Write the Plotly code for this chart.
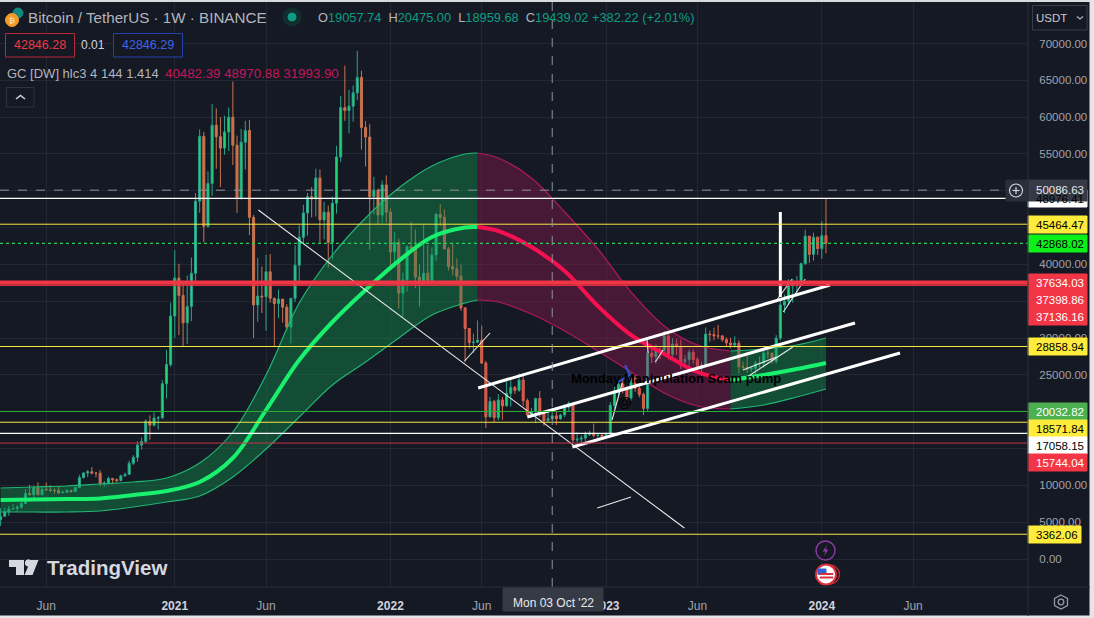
import pandas as pd
import plotly.graph_objects as go

# weekly candles
start_date = "2020-03-16"
first_open = 5360
closes = [5816, 6410, 6780, 6860, 7040, 7540, 8900, 8720, 9670, 8720, 9450, 9380, 9330, 9300, 9000, 9050, 9300, 9160, 9700, 11050,
          11680, 11850, 11650, 11650, 10250, 10320, 10940, 10770, 10670, 11290, 11500, 13000, 13800, 15480, 15960, 18700, 18170, 19150, 19170, 23800,
          26400, 33000, 38150, 35800, 32080, 34300, 38800, 48600, 57400, 45200, 51000, 58900, 57350, 55800, 58000, 60000, 56200, 49000, 56600, 58200,
          46400, 34500, 35700, 35600, 39000, 35400, 34700, 35300, 34200, 31500, 35400, 39900, 43700, 47000, 49200, 48900, 51750, 46050, 47100, 43000,
          48300, 54600, 61300, 60900, 61500, 63300, 65400, 58600, 57300, 49200, 50100, 46700, 50800, 47100, 41700, 43000, 36100, 37900, 42400, 42200,
          38300, 37700, 38800, 37800, 41300, 46800, 46400, 42100, 39700, 39400, 38400, 34100, 31300, 29400, 29450, 29700, 26600, 19300, 21400, 19200,
          21600, 20800, 22500, 23300, 22900, 24300, 21500, 19550, 20000, 21800, 20100, 18800, 19057.74, 19439.02, 19070, 19570, 20600, 21150, 16150, 16280,
          16420, 16880, 17100, 16780, 16830, 16550, 16940, 20870, 22700, 23750, 23300, 21850, 24600, 23170, 22350, 20450, 27970, 27470, 28450, 28320,
          30300, 27800, 29200, 28850, 26770, 27100, 28070, 27100, 25840, 26340, 30540, 30470, 30300, 30300, 29790, 29340, 29050, 29300, 26100, 26000,
          25800, 25900, 26600, 26570, 27970, 27900, 26850, 29990, 34500, 35000, 37060, 37350, 37450, 40100, 43850, 41370, 43700, 42150, 43900, 42868.02]
highs = [6900, 6980, 7200, 7460, 7300, 7780, 9460, 10070, 9950, 10400, 9750, 10380, 10000, 9590, 9780, 9300, 9470, 9400, 9810, 11420,
         11780, 12090, 12480, 11800, 12060, 10580, 11180, 10990, 10950, 11450, 11730, 13350, 14100, 16000, 16500, 18970, 19500, 19900, 19420, 24300,
         28400, 34800, 41950, 40100, 37800, 38500, 40950, 49700, 58350, 58000, 52640, 61800, 61180, 60000, 60200, 61300, 64850, 57500, 58400, 59500,
         59600, 46700, 40900, 39700, 41300, 41400, 35500, 36600, 35100, 34600, 35400, 42600, 45300, 48100, 49700, 50500, 53000, 52900, 48500, 48000,
         49200, 56100, 62900, 67000, 63700, 64300, 69000, 66300, 59500, 59100, 51900, 50300, 51400, 52100, 47600, 44400, 43500, 38900, 42600, 45800,
         44750, 40000, 45400, 42600, 42300, 47000, 48200, 47500, 42400, 42900, 40800, 40000, 34200, 31000, 30600, 32400, 31700, 26900, 22000, 21600,
         22400, 22000, 24250, 24700, 23500, 25200, 25200, 21800, 20500, 21900, 22800, 19700, 20300, 20475, 19950, 19700, 21000, 21400, 21100, 17200,
         16800, 17300, 17400, 18400, 17000, 16950, 17150, 21300, 23370, 23950, 24250, 23450, 25250, 25000, 23900, 22600, 28400, 28900, 29150, 28900,
         31000, 30500, 30000, 29900, 29800, 27700, 28450, 28450, 27400, 26800, 31430, 31000, 31400, 31800, 30400, 30100, 30050, 30250, 29700, 26800,
         28100, 26100, 26900, 27500, 28600, 28600, 28100, 30400, 35300, 35900, 38000, 37980, 38400, 40250, 44700, 43400, 44300, 43800, 45900, 49000]
lows = [4500, 5700, 5860, 6730, 6460, 6810, 7530, 8650, 8200, 8700, 8640, 9260, 9100, 8900, 8830, 8900, 9050, 9000, 9110, 9700,
        10950, 11130, 11500, 11100, 9900, 9800, 10200, 10130, 10370, 10550, 11180, 11420, 12760, 13200, 14860, 15760, 16200, 18000, 17600, 19000,
        21800, 26100, 30000, 30400, 28800, 29200, 32300, 37400, 47000, 43000, 45000, 49300, 53000, 50500, 54900, 55400, 53500, 47000, 48800, 52900,
        44000, 30000, 32200, 33400, 31000, 34800, 28800, 32700, 32100, 31000, 29300, 34900, 37300, 42800, 43900, 46400, 46500, 42800, 43400, 39600,
        40700, 46900, 53900, 59500, 57800, 59400, 62300, 55600, 53300, 42000, 46800, 45500, 45600, 45700, 39650, 39600, 34000, 32900, 36300, 41700,
        36800, 34300, 37200, 37200, 37600, 40500, 45200, 42100, 39200, 38500, 37600, 33700, 26700, 28600, 28000, 29300, 26500, 17800, 19600, 18600,
        18800, 18900, 20700, 20700, 22400, 22700, 20800, 19500, 19500, 18500, 19300, 18100, 18600, 18959.68, 18190, 18900, 19250, 20050, 15700, 15800,
        15476, 16000, 16700, 16500, 16250, 16300, 16500, 17300, 20400, 22300, 22500, 21400, 21500, 22700, 21950, 19550, 20100, 26600, 26500, 27150,
        28000, 27100, 26950, 27700, 25800, 26350, 25850, 26500, 25350, 24800, 26250, 29500, 29700, 29900, 29500, 28900, 28600, 28700, 25200, 25700,
        25300, 25400, 24900, 26000, 26000, 27200, 26500, 26550, 29700, 33400, 34500, 34800, 35650, 37100, 39950, 40200, 40500, 41300, 40750, 41500]
opens = [first_open] + closes[:-1]
weeks = pd.date_range(start_date, periods=len(closes), freq="7D")
# candles up to here have the duller orange down colour
dull_until = 94

# gaussian channel, sampled along the curve
band_dates = ["2020-03-16", "2020-05-11", "2020-07-06", "2020-08-31", "2020-10-26", "2020-12-21", "2021-02-15", "2021-04-12",
              "2021-06-07", "2021-08-02", "2021-09-27", "2021-11-22", "2022-01-17", "2022-03-14", "2022-05-09", "2022-05-30",
              "2022-07-04", "2022-08-29", "2022-10-24", "2022-12-19", "2023-02-13", "2023-04-10", "2023-06-05", "2023-07-31",
              "2023-09-25", "2023-11-20", "2024-01-08"]
band_upper = [9642, 9778, 9913, 10185, 10457, 11000, 13037, 17247, 24987, 34765, 41283, 46308, 50382, 53369, 54999, 55135,
              54456, 51740, 47123, 42098, 36259, 31641, 29061, 28246, 28518, 29061, 30012]
band_mid = [8012, 8080, 8148, 8216, 8691, 9234, 10457, 13716, 20234, 27024, 32185, 36530, 40482, 43728, 45017, 45086,
            44542, 42370, 39110, 34357, 30419, 27839, 25395, 24308, 24987, 25802, 26617]
band_lower = [6383, 6383, 6383, 6518, 7062, 7741, 8555, 11136, 14938, 19284, 23629, 26753, 30012, 33135, 34765, 35172,
              34900, 33271, 30962, 28246, 25395, 22543, 20777, 20370, 20913, 22000, 23086]
# knot index where the colour flips: rising, falling, rising
band_splits = [(0, 16, "up"), (15, 24, "down"), (23, 27, "up")]

# horizontal levels
level_prices = [48976.41, 45464.47, 42868.02, 37634.03, 37398.86, 37136.16, 28858.94, 20032.82, 18571.84, 17058.15, 15744.04, 3362.06]
crosshair_price = 50086.63
crosshair_date = "2022-10-03"

# hand drawn trend lines (dates, prices)
long_down = (["2021-05-25", "2023-05-14"], [47394, 4210])
channel_top = (["2022-05-31", "2024-01-15"], [23222, 37209])
channel_mid = (["2022-08-22", "2024-02-26"], [19284, 32049])
channel_low = (["2022-11-06", "2024-05-12"], [15210, 27975])
spike = (["2023-10-23", "2023-10-23"], [47123, 35580])
thin_lines = [
    (["2022-05-08", "2022-06-20"], [26888, 30691]),
    (["2022-12-18", "2023-02-13"], [6926, 8420]),
    (["2023-01-12", "2023-01-29"], [18876, 23901]),
    (["2023-03-12", "2023-03-14"], [29740, 27975]),
    (["2023-03-26", "2023-04-08"], [26753, 28382]),
    (["2023-08-28", "2023-11-13"], [24716, 28790]),
    (["2023-08-21", "2023-10-17"], [25666, 27432]),
    (["2023-10-28", "2023-12-04"], [33543, 38024]),
    (["2023-10-17", "2023-11-12"], [35172, 38024]),
]
blue_arrow = (["2023-02-03", "2023-02-11", "2023-01-22"], [26345, 24987, 24036])

y_ticks = list(range(0, 70001, 5000))
# these sit fully behind a price tag
y_hidden = [15000, 20000, 35000, 45000, 50000]
x_ticks = ["2020-06-01", "2021-01-04", "2021-06-07", "2022-01-03", "2022-06-06", "2023-01-02", "2023-06-05", "2024-01-01", "2024-06-03"]
x_labels = ["Jun", "2021", "Jun", "2022", "Jun", "2023", "Jun", "2024", "Jun"]

FONT = "Liberation Sans"
BG = "#151924"
GRID = "#232733"
W, H = 1094, 618
L_W, T_M, B_M = 1028, 2, 31
PLOT_H = H - T_M - B_M


def px(x):
    return x / L_W


def py(y):
    return (H - B_M - y) / PLOT_H


fig = go.Figure()

# channel fills + lines
for a, b, kind in band_splits:
    edge = "#22b573" if kind == "up" else "#b0185e"
    fill = "rgba(16,150,80,0.42)" if kind == "up" else "rgba(160,25,85,0.36)"
    mid_col = "#18f06e" if kind == "up" else "#f5104f"
    xs = band_dates[a:b]
    fig.add_trace(go.Scatter(x=xs, y=band_upper[a:b], mode="lines", line=dict(color=edge, width=1.2, shape="spline"), hoverinfo="skip"))
    fig.add_trace(go.Scatter(x=xs, y=band_lower[a:b], mode="lines", line=dict(color=edge, width=1.2, shape="spline"),
                             fill="tonexty", fillcolor=fill, hoverinfo="skip"))
    fig.add_trace(go.Scatter(x=xs, y=band_mid[a:b], mode="lines", line=dict(color=mid_col, width=4, shape="spline"), hoverinfo="skip"))

# two runs of candles, only the down colour differs
for s, e, down_line, down_fill in [(0, dull_until, "#c8744f", "#cf6f4c"), (dull_until, len(closes), "#d8674c", "#f2404f")]:
    fig.add_trace(go.Candlestick(
        x=weeks[s:e], open=opens[s:e], high=highs[s:e], low=lows[s:e], close=closes[s:e], whiskerwidth=0, hoverinfo="skip",
        increasing=dict(line=dict(color="#2aa58c", width=1), fillcolor="#22d86e"),
        decreasing=dict(line=dict(color=down_line, width=1), fillcolor=down_fill),
    ))

# drawings
for xs, ys in thin_lines + [long_down]:
    fig.add_trace(go.Scatter(x=xs, y=ys, mode="lines", line=dict(color="#e8e8ea", width=1.1), hoverinfo="skip"))
for xs, ys in [channel_top, channel_mid, channel_low, spike]:
    fig.add_trace(go.Scatter(x=xs, y=ys, mode="lines", line=dict(color="#ffffff", width=3), hoverinfo="skip"))
fig.add_trace(go.Scatter(x=blue_arrow[0], y=blue_arrow[1], mode="lines", line=dict(color="#2f55e0", width=2), hoverinfo="skip"))

shapes = []
annots = []


def rect(x0, y0, x1, y1, fill, line=None, lw=1):
    shapes.append(dict(type="rect", xref="paper", yref="paper", x0=px(x0), x1=px(x1), y0=py(y0), y1=py(y1),
                       fillcolor=fill, line=dict(color=line or fill, width=lw), layer="above"))


def circle(cx, cy, r, fill, line=None, lw=1):
    shapes.append(dict(type="circle", xref="paper", yref="paper", x0=px(cx - r), x1=px(cx + r), y0=py(cy - r), y1=py(cy + r),
                       fillcolor=fill, line=dict(color=line or fill, width=lw), layer="above"))


def poly(pts, fill, line=None, lw=0, close=True):
    d = "M " + " L ".join(f"{px(x):.5f} {py(y):.5f}" for x, y in pts) + (" Z" if close else "")
    shapes.append(dict(type="path", xref="paper", yref="paper", path=d, fillcolor=fill,
                       line=dict(color=line or fill, width=lw), layer="above"))


def label(x, y, text, size=12, color="#b2b5be", anchor="left"):
    annots.append(dict(xref="paper", yref="paper", x=px(x), y=py(y), text=text, showarrow=False, xanchor=anchor, yanchor="middle",
                       font=dict(family=FONT, size=size, color=color), borderpad=0, borderwidth=0))


# level lines
level_styles = [("#ffffff", 1.4, "solid"), ("#f5e642", 1, "solid"), ("#28d05a", 1.1, "dot"), ("#f23645", 2.5, "solid"),
                ("#f23645", 2.5, "solid"), ("#e0303f", 1, "solid"), ("#f5e642", 1.2, "solid"), ("#2fae3a", 1, "solid"),
                ("#f5e642", 1.2, "solid"), ("#ffffff", 1.2, "solid"), ("#c9304a", 1, "solid"), ("#f5e642", 1.2, "solid")]
for p, (col, lw, dash) in zip(level_prices, level_styles):
    shapes.append(dict(type="line", xref="paper", x0=0, x1=1, y0=p, y1=p, line=dict(color=col, width=lw, dash=dash), layer="above"))

# crosshair
shapes.append(dict(type="line", xref="paper", x0=0, x1=1, y0=crosshair_price, y1=crosshair_price, line=dict(color="#8f939d", width=1, dash="dash"), layer="above"))
shapes.append(dict(type="line", yref="paper", x0=crosshair_date, x1=crosshair_date, y0=0, y1=1, line=dict(color="#8f939d", width=1, dash="dash"), layer="above"))

# price labels on the axis
label_boxes = [(198.5, "#ffffff", "#000000", 59), (224.5, "#ffeb3b", "#000000", 59), (243.5, "#0cf01c", "#000000", 59), (282.5, "#f23645", "#ffffff", 59),
               (299.5, "#f23645", "#ffffff", 59), (316.5, "#f23645", "#ffffff", 59), (346.5, "#ffeb3b", "#000000", 59), (411.5, "#4caf50", "#ffffff", 59),
               (428.5, "#ffeb3b", "#000000", 59), (445.5, "#ffffff", "#000000", 59), (462.5, "#f23645", "#ffffff", 59), (534.5, "#ffeb3b", "#000000", 53)]
for p, (yy, bg, fg, wd) in zip(level_prices, label_boxes):
    rect(1028, yy - 8.5, 1028 + wd, yy + 8.5, bg)
    label(1036, yy, f"{p:.2f}", size=11.5, color=fg)
rect(1028, 180, 1087, 201, "#363a45")
label(1036, 190.5, f"{crosshair_price:.2f}", size=11.5, color="#e8e9ed")

# plus button
rect(1006, 180, 1028, 201, "#2a2e39")
circle(1016, 190.5, 6.5, "rgba(0,0,0,0)", "#d1d4dc", 1.2)
poly([(1012.5, 190.5), (1019.5, 190.5)], "rgba(0,0,0,0)", "#d1d4dc", 1.2, close=False)
poly([(1016, 187), (1016, 194)], "rgba(0,0,0,0)", "#d1d4dc", 1.2, close=False)

# frame bits
rect(0, 0, W, 1.5, "#d8dade")
rect(0, 616, W, 618, "#e4e5e8")
rect(1090, 0, W, 618, "#e4e5e8")
shapes.append(dict(type="line", xref="paper", yref="paper", x0=1, x1=1, y0=py(587), y1=py(616), line=dict(color="#2a2e39", width=1), layer="above"))
shapes.append(dict(type="line", xref="paper", yref="paper", x0=1, x1=1, y0=0, y1=1, line=dict(color="#2a2e39", width=1), layer="above"))
shapes.append(dict(type="line", xref="paper", yref="paper", x0=0, x1=px(1090), y0=0, y1=0, line=dict(color="#2a2e39", width=1), layer="above"))

# crosshair date tag
rect(503, 588, 603, 611, "#363a45")
label(553, 602.5, "Mon 03 Oct '22", size=12, color="#e8e9ed", anchor="center")

# header
circle(18, 13, 5, "#12877d")
circle(12, 20, 6.5, "#f29a2e")
label(12, 20, "₿", size=8, color="#ffe9c7", anchor="center")
label(28, 17, "Bitcoin / TetherUS · 1W · BINANCE", size=15.2, color="#b2b5be")
circle(292, 17, 9, "#10302f")
circle(292, 17, 4, "#0c9c82")
teal = "#0d9d84"
ohlc = "  ".join(f'{k}<span style="color:{teal}">{v}</span>' for k, v in
                 [("O", "19057.74"), ("H", "20475.00"), ("L", "18959.68"), ("C", "19439.02")])
label(318, 17, ohlc + f' <span style="color:{teal}">+382.22 (+2.01%)</span>', size=12.8, color="#b2b5be")

rect(5.5, 33.5, 74.5, 57, BG, "#b5283a", 1)
label(39.5, 45, "42846.28", size=12.5, color="#f23645", anchor="center")
label(93, 45, "0.01", size=12, color="#d1d4dc", anchor="center")
rect(113.5, 33.5, 182.5, 57, BG, "#2443a8", 1)
label(148, 45, "42846.29", size=12.5, color="#3f63e8", anchor="center")
label(7, 73, "GC [DW] hlc3 4 144 1.414", size=13, color="#b2b5be")
label(165, 73, "40482.39 48970.88 31993.90", size=13.3, color="#c2185b")
rect(6.5, 87.5, 34, 107, BG, "#2f3340", 1)
poly([(16, 99), (20.5, 95.5), (25, 99)], "rgba(0,0,0,0)", "#d1d4dc", 1.5, close=False)

# currency box
rect(1032.5, 5.5, 1087, 30, BG, "#3a3e4a", 1)
label(1036, 17.5, "USDT", size=11.5, color="#c8cad0")
poly([(1077, 16.5), (1080, 19), (1083, 16.5)], "rgba(0,0,0,0)", "#b2b5be", 1.2, close=False)

# logo
poly([(9, 560), (24, 560), (24, 575), (16, 575), (16, 567), (9, 567)], "#d6d8e0")
circle(28.5, 563, 3.2, "#d6d8e0")
poly([(31, 560), (38.5, 560), (32.5, 575), (24.5, 575)], "#d6d8e0")
label(46.5, 567, "<b>TradingView</b>", size=20.5, color="#d6d8e0")

# event badges
circle(825.5, 550.5, 9.5, BG, "#8e3aa8", 1.4)
poly([(827.5, 544.5), (822.5, 551.5), (825.5, 551.5), (823.5, 556.5), (828.5, 549.5), (825.5, 549.5)], "#8e3aa8")
circle(830, 574.5, 9.5, BG, "#b5283a", 1.4)
circle(826, 574.5, 10, "#ffffff", "#d9303c", 2)
rect(818, 569, 826, 574.5, "#2f63d8")
rect(820, 577, 833, 578, "#d9303c")
rect(820, 573.5, 833, 574.5, "#d9303c")

# settings hexagon
poly([(1061, 595), (1067.5, 598.5), (1067.5, 605.5), (1061, 609), (1054.5, 605.5), (1054.5, 598.5)], "rgba(0,0,0,0)", "#9598a1", 1.3)
circle(1061, 602, 2.8, "rgba(0,0,0,0)", "#9598a1", 1.3)

# text written on the chart
annots.append(dict(x="2023-04-30", y=24580, text="<b>Monday Manipulation Scam pump</b>", showarrow=False,
                   font=dict(family=FONT, size=13, color="#000000")))
annots.append(dict(x="2023-02-03", y=21320, text="<b>@</b>", showarrow=False, font=dict(family=FONT, size=14, color="#000000")))

tick_text = [f'<span style="color:#d1d4dc"><b>{t}</b></span>' if t.isdigit() else t for t in x_labels]

fig.update_layout(
    width=W, height=H, showlegend=False,
    paper_bgcolor=BG, plot_bgcolor=BG,
    margin=dict(l=0, r=W - L_W, t=T_M, b=B_M, pad=0),
    shapes=shapes, annotations=annots, hovermode=False,
    xaxis=dict(type="date", range=["2020-03-15", "2024-12-14"], rangeslider=dict(visible=False),
               tickmode="array", tickvals=x_ticks, ticktext=tick_text, ticks="outside", ticklen=8, tickcolor="rgba(0,0,0,0)",
               showline=False, zeroline=False,
               gridcolor=GRID, gridwidth=1, tickfont=dict(family=FONT, size=12, color="#a0a3ad")),
    yaxis=dict(side="right", range=[-3802, 75640], tickmode="array", tickvals=y_ticks,
               ticktext=["" if v in y_hidden else f"{v:.2f}" for v in y_ticks], ticks="outside", ticklen=8, tickcolor="rgba(0,0,0,0)",
               showline=False, zeroline=False, gridcolor=GRID, gridwidth=1,
               tickfont=dict(family=FONT, size=11.5, color="#a0a3ad")),
)

fig.write_html("out.html", config=dict(displayModeBar=False),
               post_script="document.body.style.margin='0';document.body.style.overflow='hidden';")
